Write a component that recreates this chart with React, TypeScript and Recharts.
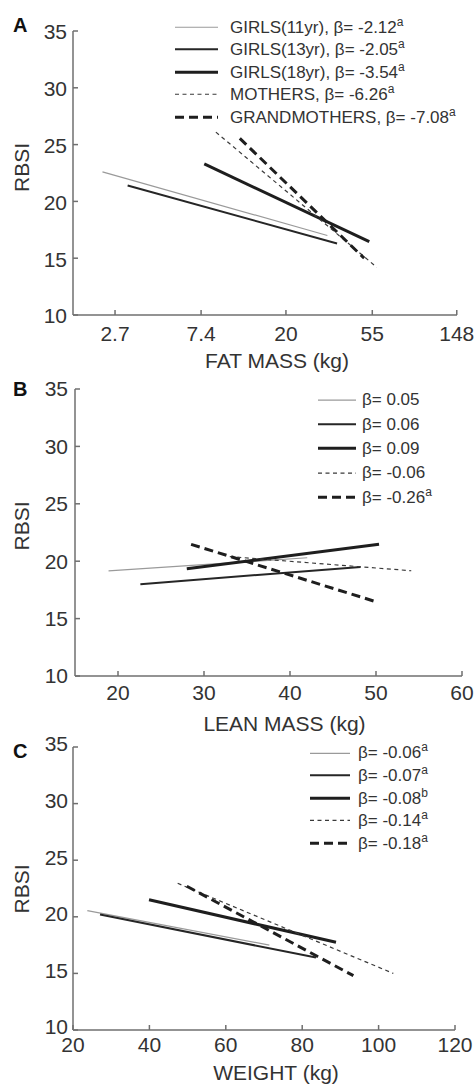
import React from 'react';
import { LineChart, Line, XAxis, YAxis, Legend, Label } from 'recharts';

const FONT = '"Liberation Sans", Arial, Helvetica, sans-serif';
const TEXT = '#333333';
const AXIS = '#6f6f6f';

// RBSI axis, shared by all three panels
const rbsiTicks = [10, 15, 20, 25, 30, 35];

// Groups, in legend order
const groups = ['GIRLS(11yr)', 'GIRLS(13yr)', 'GIRLS(18yr)', 'MOTHERS', 'GRANDMOTHERS'];

// Panel A: fat mass (kg, log axis) — fitted segment end points
const fatTicks = [2.7, 7.4, 20, 55, 148];
const fatStartKg = [2.33, 3.13, 7.68, 8.8, 11.65];
const fatEndKg = [32.5, 36.4, 53.1, 58, 50];
const fatStartRbsi = [22.6, 21.4, 23.3, 26.1, 25.55];
const fatEndRbsi = [17.0, 16.3, 16.45, 14.2, 15.0];
const fatBetas = ['-2.12', '-2.05', '-3.54', '-6.26', '-7.08'];
const fatSig = ['a', 'a', 'a', 'a', 'a'];

// Panel B: lean mass (kg)
const leanTicks = [20, 30, 40, 50, 60];
const leanStartKg = [18.9, 22.6, 28.0, 33.0, 28.5];
const leanEndKg = [42.0, 48.2, 50.35, 54.1, 50.0];
const leanStartRbsi = [19.15, 18.0, 19.35, 20.4, 21.47];
const leanEndRbsi = [20.3, 19.5, 21.47, 19.17, 16.47];
const leanBetas = ['0.05', '0.06', '0.09', '-0.06', '-0.26'];
const leanSig = ['', '', '', '', 'a'];

// Panel C: weight (kg)
const weightTicks = [20, 40, 60, 80, 100, 120];
const weightStartKg = [23.75, 27.07, 39.9, 47.4, 49.8];
const weightEndKg = [71.4, 83.6, 88.85, 103.85, 93.4];
const weightStartRbsi = [20.55, 20.2, 21.5, 22.96, 22.7];
const weightEndRbsi = [17.5, 16.4, 17.75, 15.0, 14.8];
const weightBetas = ['-0.06', '-0.07', '-0.08', '-0.14', '-0.18'];
const weightSig = ['a', 'a', 'b', 'a', 'a'];

// Line styles per group
const styles = [
  { stroke: '#9a9a9a', width: 1.2, dash: undefined as string | undefined },
  { stroke: '#262626', width: 2, dash: undefined as string | undefined },
  { stroke: '#1e1e1e', width: 3, dash: undefined as string | undefined },
  { stroke: '#3a3a3a', width: 1.2, dash: '4 3.5' },
  { stroke: '#1e1e1e', width: 3, dash: '9 5' },
];

const toSegments = (x0: number[], x1: number[], y0: number[], y1: number[]) =>
  x0.map((_, i) => [
    { x: x0[i], y: y0[i] },
    { x: x1[i], y: y1[i] },
  ]);

type LegendCfg = {
  top: number;
  left: number;
  rowH: number;
  lineLen: number;
  gap: number;
};

function makeLegend(labels: string[], betas: string[], sig: string[], cfg: LegendCfg) {
  return () => (
    <div style={{ fontFamily: FONT, fontSize: 17, color: TEXT, lineHeight: 1 }}>
      {betas.map((b, i) => (
        <div
          key={i}
          style={{ display: 'flex', alignItems: 'center', height: cfg.rowH, whiteSpace: 'nowrap' }}
        >
          <svg width={cfg.lineLen} height={cfg.rowH} style={{ flex: 'none' }}>
            <line
              x1={0}
              x2={cfg.lineLen}
              y1={cfg.rowH / 2}
              y2={cfg.rowH / 2}
              stroke={styles[i].stroke}
              strokeWidth={styles[i].width}
              strokeDasharray={styles[i].dash}
            />
          </svg>
          <span style={{ marginLeft: cfg.gap }}>
            {labels[i] ? `${labels[i]}, ` : ''}β= {b}
            {sig[i] ? (
              <sup style={{ fontSize: 12, verticalAlign: 0, position: 'relative', top: -7 }}>{sig[i]}</sup>
            ) : null}
          </span>
        </div>
      ))}
    </div>
  );
}

type PanelProps = {
  letter: string;
  top: number;
  height: number;
  marginTop: number;
  yAxisWidth: number;
  rightMargin: number;
  xAxisHeight: number;
  xDomain: [number, number];
  xTicks: number[];
  xScale?: 'log' | 'linear';
  xTickMargin: number;
  yTickMargin: number;
  yTickDy: number;
  xTitle: string;
  xTitleDy: number;
  xTitleDx: number;
  letterBaseline: number;
  rbsiCenter: number;
  segments: { x: number; y: number }[][];
  legend: () => React.ReactElement;
  legendCfg: LegendCfg;
};

function Panel(p: PanelProps) {
  const tickStyle = { fill: TEXT, fontSize: 21, fontFamily: FONT };
  return (
    <div style={{ position: 'absolute', left: 0, top: p.top, width: 475, height: p.height }}>
      <LineChart
        width={475}
        height={p.height}
        margin={{ top: p.marginTop, right: p.rightMargin, bottom: 0, left: 0 }}
      >
        <XAxis
          type="number"
          dataKey="x"
          scale={p.xScale ?? 'linear'}
          domain={p.xDomain}
          ticks={p.xTicks}
          interval={0}
          allowDataOverflow
          height={p.xAxisHeight}
          stroke={AXIS}
          strokeWidth={1.5}
          tickSize={-5}
          tickMargin={p.xTickMargin}
          tick={tickStyle}
        >
          <Label
            content={(props: any) => {
              const vb = props.viewBox || {};
              const x = (vb.x ?? 0) + (vb.width ?? 0) / 2 + p.xTitleDx;
              const y = (vb.y ?? 0) + p.xTitleDy;
              return (
                <text x={x} y={y} textAnchor="middle" fill={TEXT} fontSize={21} fontFamily={FONT}>
                  {p.xTitle}
                </text>
              );
            }}
          />
        </XAxis>
        <YAxis
          type="number"
          domain={[10, 35]}
          ticks={rbsiTicks}
          interval={0}
          width={p.yAxisWidth}
          stroke={AXIS}
          strokeWidth={1.5}
          tickSize={-5}
          tickMargin={p.yTickMargin}
          tick={{ ...tickStyle, dy: p.yTickDy }}
        >
          <Label
            content={() => (
              <g>
                <text
                  x={13}
                  y={p.letterBaseline}
                  fill="#111"
                  fontSize={20}
                  fontWeight="bold"
                  fontFamily={FONT}
                >
                  {p.letter}
                </text>
                <text
                  x={21.5}
                  y={p.rbsiCenter}
                  transform={`rotate(-90, 21.5, ${p.rbsiCenter})`}
                  textAnchor="middle"
                  dy="0.36em"
                  fill={TEXT}
                  fontSize={21}
                  fontFamily={FONT}
                >
                  RBSI
                </text>
              </g>
            )}
          />
        </YAxis>
        {p.segments.map((d, i) => (
          <Line
            key={i}
            data={d}
            dataKey="y"
            type="linear"
            stroke={styles[i].stroke}
            strokeWidth={styles[i].width}
            strokeDasharray={styles[i].dash}
            dot={false}
            activeDot={false}
            isAnimationActive={false}
            legendType="none"
          />
        ))}
        <Legend
          layout="vertical"
          align="center"
          verticalAlign="middle"
          content={p.legend}
          wrapperStyle={{ top: p.legendCfg.top, left: p.legendCfg.left, width: 'auto', height: 'auto' }}
        />
      </LineChart>
    </div>
  );
}

const legendA: LegendCfg = { top: 15.75, left: 175, rowH: 22.5, lineLen: 43, gap: 12 };
const legendB: LegendCfg = { top: 12.8, left: 318, rowH: 24.3, lineLen: 38, gap: 6 };
const legendC: LegendCfg = { top: 16.7, left: 310, rowH: 22.6, lineLen: 40, gap: 8 };

export default function App() {
  return (
    <div
      style={{
        position: 'absolute',
        left: 0,
        top: 0,
        width: 475,
        height: 1086,
        background: '#ffffff',
        overflow: 'hidden',
      }}
    >
      <Panel
        letter="A"
        top={0}
        height={375}
        marginTop={31}
        yAxisWidth={73}
        rightMargin={18}
        xAxisHeight={60}
        xDomain={[1.65, 148.4]}
        xTicks={fatTicks}
        xScale="log"
        xTickMargin={16}
        yTickMargin={11}
        yTickDy={1}
        xTitle="FAT MASS (kg)"
        xTitleDy={53}
        xTitleDx={12}
        letterBaseline={32}
        rbsiCenter={167.5}
        segments={toSegments(fatStartKg, fatEndKg, fatStartRbsi, fatEndRbsi)}
        legend={makeLegend(groups, fatBetas, fatSig, legendA)}
        legendCfg={legendA}
      />
      <Panel
        letter="B"
        top={375}
        height={360}
        marginTop={14}
        yAxisWidth={75}
        rightMargin={13}
        xAxisHeight={59}
        xDomain={[15, 60]}
        xTicks={leanTicks}
        xTickMargin={14}
        yTickMargin={12}
        yTickDy={0}
        xTitle="LEAN MASS (kg)"
        xTitleDy={55}
        xTitleDx={16}
        letterBaseline={21}
        rbsiCenter={151}
        segments={toSegments(leanStartKg, leanEndKg, leanStartRbsi, leanEndRbsi)}
        legend={makeLegend(['', '', '', '', ''], leanBetas, leanSig, legendB)}
        legendCfg={legendB}
      />
      <Panel
        letter="C"
        top={725}
        height={361}
        marginTop={22}
        yAxisWidth={73}
        rightMargin={20}
        xAxisHeight={56}
        xDomain={[20, 120]}
        xTicks={weightTicks}
        xTickMargin={12}
        yTickMargin={10}
        yTickDy={-3}
        xTitle="WEIGHT (kg)"
        xTitleDy={50}
        xTitleDx={12}
        letterBaseline={33}
        rbsiCenter={164}
        segments={toSegments(weightStartKg, weightEndKg, weightStartRbsi, weightEndRbsi)}
        legend={makeLegend(['', '', '', '', ''], weightBetas, weightSig, legendC)}
        legendCfg={legendC}
      />
    </div>
  );
}
